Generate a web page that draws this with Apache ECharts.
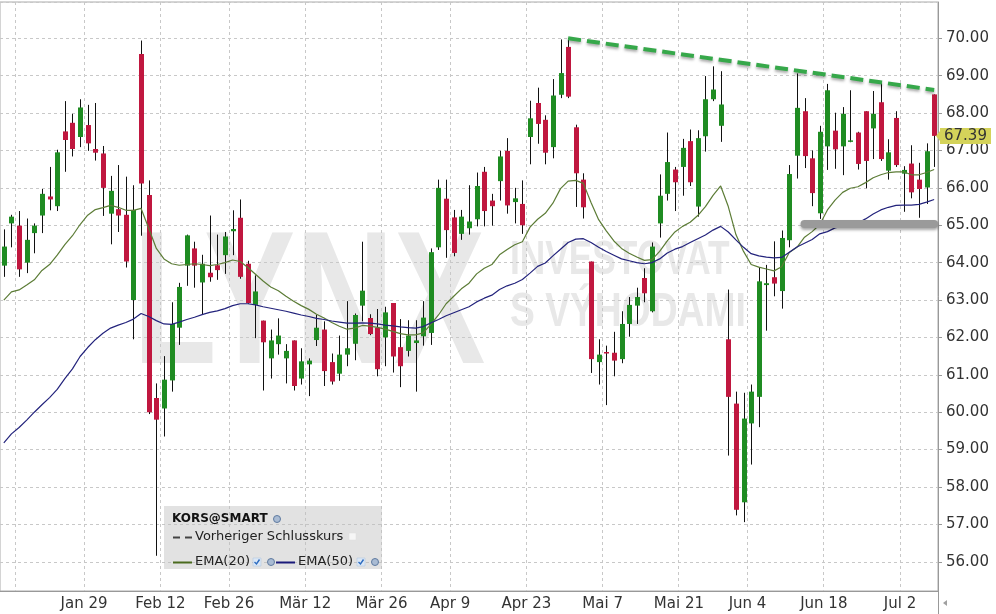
<!DOCTYPE html>
<html><head><meta charset="utf-8">
<script src="https://cdn.jsdelivr.net/npm/echarts@6/dist/echarts.min.js"></script>
<style>html,body{margin:0;padding:0;background:#fff}#c{width:996px;height:614px}</style>
</head><body><div id="c"></div>
<script>
// ---------------- data ----------------
const dates = ['Jan 12','Jan 16','Jan 17','Jan 18','Jan 19','Jan 22','Jan 23','Jan 24','Jan 25','Jan 26','Jan 29','Jan 30','Jan 31',
'Feb 1','Feb 2','Feb 5','Feb 6','Feb 7','Feb 8','Feb 9','Feb 12','Feb 13','Feb 14','Feb 15','Feb 16','Feb 20','Feb 21','Feb 22','Feb 23','Feb 26','Feb 27','Feb 28',
'Mär 1','Mär 2','Mär 5','Mär 6','Mär 7','Mär 8','Mär 9','Mär 12','Mär 13','Mär 14','Mär 15','Mär 16','Mär 19','Mär 20','Mär 21','Mär 22','Mär 23','Mär 26','Mär 27','Mär 28','Mär 29',
'Apr 2','Apr 3','Apr 4','Apr 5','Apr 6','Apr 9','Apr 10','Apr 11','Apr 12','Apr 13','Apr 16','Apr 17','Apr 18','Apr 19','Apr 20','Apr 23','Apr 24','Apr 25','Apr 26','Apr 27','Apr 30',
'Mai 1','Mai 2','Mai 3','Mai 4','Mai 7','Mai 8','Mai 9','Mai 10','Mai 11','Mai 14','Mai 15','Mai 16','Mai 17','Mai 18','Mai 21','Mai 22','Mai 23','Mai 24','Mai 25','Mai 29','Mai 30','Mai 31',
'Jun 1','Jun 4','Jun 5','Jun 6','Jun 7','Jun 8','Jun 11','Jun 12','Jun 13','Jun 14','Jun 15','Jun 18','Jun 19','Jun 20','Jun 21','Jun 22','Jun 25','Jun 26','Jun 27','Jun 28','Jun 29',
'Jul 2','Jul 3','Jul 5','Jul 6','Jul 9','Jul 10'];

const tickDates = ['Jan 29','Feb 12','Feb 26','Mär 12','Mär 26','Apr 9','Apr 23','Mai 7','Mai 21','Jun 4','Jun 18','Jul 2'];
const gridDates = ['Jan 16'].concat(tickDates);

const opens = [63.92,65.05,64.99,64.00,64.79,65.26,65.77,65.51,67.51,67.74,
67.36,67.68,67.04,66.92,65.31,65.43,65.28,63.00,69.58,65.81,
60.38,60.10,60.85,62.26,63.92,64.38,63.47,63.73,63.93,64.20,
64.84,65.20,63.97,62.87,62.45,61.44,61.82,61.44,61.92,60.90,
61.28,61.93,62.21,61.34,61.03,61.54,61.83,62.85,62.52,62.26,
62.00,62.92,61.74,61.64,61.85,62.03,62.12,64.41,65.71,65.21,
64.77,64.92,65.16,66.43,65.66,66.18,66.99,65.62,65.57,67.36,
68.27,67.82,67.09,68.49,69.77,67.62,66.22,64.03,61.34,61.61,
61.59,61.42,62.36,62.85,63.59,62.70,65.05,65.84,66.49,66.56,
67.25,65.50,67.38,68.37,67.66,61.95,60.23,57.59,59.70,60.41,
63.40,63.61,63.24,64.60,66.86,68.05,66.79,65.32,67.11,67.53,
67.11,67.23,67.48,68.05,67.59,68.29,66.46,67.87,66.38,66.65,
66.22,66.01,68.50];

const highs = [64.89,65.28,65.38,65.18,65.05,65.97,66.56,67.02,68.32,67.98,
68.37,68.22,68.27,67.12,66.32,66.61,66.30,66.07,69.94,66.20,
60.77,61.50,62.94,63.46,64.75,64.56,64.21,65.26,64.75,64.82,
65.40,65.69,64.05,63.66,62.45,62.21,62.51,61.82,61.92,61.71,
61.44,62.60,62.43,61.57,62.05,62.97,62.64,64.56,62.62,62.76,
62.82,62.92,62.49,62.46,62.46,62.97,64.38,66.22,66.22,65.41,
65.41,66.07,66.41,66.56,65.84,66.99,67.33,66.00,66.20,68.33,
68.68,67.94,68.91,69.97,70.01,67.69,66.39,64.03,61.95,61.78,
62.15,62.70,63.08,63.33,63.85,64.54,66.36,67.48,66.56,67.31,
67.56,67.54,68.99,69.25,69.12,63.28,60.55,60.52,60.74,63.88,
63.94,64.57,64.86,66.61,69.06,68.40,67.00,67.66,68.78,68.01,
68.16,68.61,67.50,68.05,68.59,68.81,67.30,68.05,66.58,67.14,
66.67,67.19,68.50];

const lows = [63.62,64.41,63.62,63.72,64.25,64.79,65.40,65.38,66.43,66.84,
67.09,66.99,66.73,65.25,64.49,64.82,63.87,61.95,64.72,59.95,
56.16,59.35,60.55,61.80,63.38,63.33,62.62,63.49,63.54,63.70,
64.20,63.57,62.90,61.98,60.58,60.90,61.54,60.77,60.58,60.74,
60.43,61.77,60.70,60.74,60.84,61.23,61.39,62.43,62.06,60.96,
61.23,61.06,60.67,61.49,60.55,61.78,61.80,64.34,64.13,64.17,
64.61,64.75,64.97,64.97,64.99,65.66,65.31,65.05,64.77,66.63,
67.18,66.63,66.79,68.40,68.40,65.49,65.18,61.05,60.74,60.19,
60.96,61.31,62.02,62.36,62.94,62.67,64.67,65.66,65.38,65.79,
66.05,65.23,66.97,68.32,67.23,58.84,57.24,57.06,58.60,59.60,
62.18,63.10,62.77,64.41,66.25,66.53,65.51,65.17,66.48,66.51,
66.34,67.22,66.49,65.99,66.77,66.72,66.22,66.56,65.36,65.72,
65.20,65.57,66.56];

const closes = [64.43,65.23,63.82,64.61,64.99,65.84,65.69,66.95,67.28,67.04,
68.15,67.19,66.94,66.00,65.92,65.26,64.03,65.41,66.12,60.00,
59.80,60.87,62.36,63.35,64.73,63.92,63.97,63.61,63.80,64.70,
64.90,63.62,62.92,63.23,61.87,61.92,62.05,61.64,60.70,61.36,
61.38,62.26,61.10,60.82,61.54,61.71,62.60,63.25,62.09,61.15,
62.67,61.49,61.23,62.05,61.92,62.53,64.28,66.00,64.87,64.26,
65.23,65.10,66.05,65.38,65.51,66.84,65.53,65.72,65.00,67.86,
67.71,66.94,68.47,69.07,68.44,66.39,65.48,61.42,61.54,61.57,
61.38,62.36,62.87,63.08,63.18,64.43,65.79,66.69,66.15,67.07,
66.15,67.33,68.37,68.63,68.23,60.41,57.39,59.83,60.55,63.50,
63.45,63.44,64.66,66.37,68.14,66.85,65.86,67.50,68.61,67.03,
67.98,67.27,66.64,66.72,67.98,66.77,66.95,66.61,66.48,65.88,
65.97,66.98,67.39];

const ema20 = [63.00,63.22,63.27,63.40,63.54,63.79,63.95,64.20,64.48,64.72,
65.02,65.27,65.42,65.47,65.53,65.48,65.40,65.40,65.45,64.92,
64.38,64.10,63.97,63.93,63.95,63.97,63.95,63.92,63.95,64.00,
64.07,64.03,63.87,63.69,63.51,63.35,63.25,63.10,62.97,62.85,
62.75,62.62,62.52,62.40,62.30,62.22,62.25,62.32,62.30,62.27,
62.22,62.16,62.10,62.07,62.07,62.12,62.35,62.60,62.90,63.10,
63.30,63.45,63.70,63.85,63.95,64.21,64.35,64.48,64.56,64.95,
65.16,65.32,65.59,65.98,66.18,66.20,66.12,65.61,65.15,64.85,
64.58,64.38,64.25,64.15,64.06,64.08,64.30,64.58,64.82,64.97,
65.08,65.26,65.50,65.80,66.05,65.50,64.75,64.30,63.95,63.88,
63.83,63.78,63.89,64.27,64.41,64.68,64.83,65.02,65.41,65.67,
65.88,65.99,66.03,66.14,66.27,66.35,66.41,66.43,66.43,66.35,
66.35,66.41,66.49];

const ema50 = [59.18,59.42,59.59,59.79,60.00,60.20,60.39,60.61,60.90,61.16,
61.49,61.73,61.94,62.11,62.25,62.33,62.40,62.49,62.64,62.56,
62.45,62.36,62.35,62.41,62.48,62.54,62.61,62.67,62.71,62.77,
62.85,62.90,62.90,62.87,62.82,62.78,62.74,62.70,62.65,62.60,
62.56,62.51,62.48,62.44,62.41,62.38,62.38,62.39,62.38,62.36,
62.33,62.31,62.28,62.26,62.25,62.29,62.39,62.48,62.58,62.66,
62.74,62.82,62.95,63.05,63.13,63.28,63.38,63.45,63.55,63.72,
63.90,63.99,64.18,64.36,64.54,64.63,64.64,64.54,64.41,64.30,
64.20,64.10,64.05,64.00,63.97,64.00,64.10,64.26,64.36,64.43,
64.54,64.64,64.74,64.87,64.97,64.82,64.61,64.41,64.24,64.18,
64.15,64.13,64.14,64.28,64.42,64.52,64.62,64.77,64.83,64.93,
64.98,65.01,65.06,65.17,65.30,65.41,65.48,65.53,65.54,65.54,
65.56,65.62,65.69];

// annotation anchors (data space)
const trendLine = [['Mai 1', 70.00], ['Jul 10', 68.62]];
const supportLine = [['Jun 14', 65.04], ['Jul 10', 65.04]];
const yRange = [55.218, 70.971];

// ---------------- chart ----------------
const GREEN = '#1f8c22', RED = '#c0173f';
const GRID = {left: 0, right: 58, top: 2, bottom: 23};
const FONT = '"DejaVu Sans", Verdana, sans-serif';
const chart = echarts.init(document.getElementById('c'), null, {renderer: 'canvas'});

const candleData = dates.map((d, i) => [i, opens[i], closes[i], lows[i], highs[i]]);

const option = {
  animation: false,
  backgroundColor: '#fff',
  grid: {left: GRID.left, right: GRID.right, top: GRID.top, bottom: GRID.bottom, show: true, borderColor: '#aaa', borderWidth: 1, backgroundColor: 'transparent'},
  xAxis: {
    type: 'category', data: dates, boundaryGap: true,
    axisLine: {show: true, lineStyle: {color: '#999'}},
    axisTick: {show: false},
    axisLabel: {
      interval: (idx, val) => tickDates.indexOf(val) >= 0,
      color: '#333', fontSize: 15, fontFamily: FONT, margin: 6, padding: [0, 0, 0, 8]
    },
    splitLine: {show: true, interval: (idx) => idx > 0 && gridDates.indexOf(dates[idx - 1]) >= 0,
      lineStyle: {color: '#c8c8c8', type: [3, 3], width: 1}}
  },
  yAxis: {
    type: 'value', position: 'right', min: yRange[0], max: yRange[1],
    splitNumber: 15, minInterval: 1, maxInterval: 1,
    axisLine: {show: true, lineStyle: {color: '#999'}},
    axisTick: {show: true, length: 4, lineStyle: {color: '#999'}},
    axisLabel: {margin: 8, color: '#333', fontSize: 15, fontFamily: FONT,
      formatter: v => v.toFixed(2), showMinLabel: false, showMaxLabel: false},
    splitLine: {show: true, lineStyle: {color: '#c8c8c8', type: [3, 3], width: 1}}
  },
  series: [
    {
      type: 'custom', name: 'KORS@SMART', data: candleData,
      encode: {x: 0, y: [1, 2, 3, 4]},
      renderItem: function (params, api) {
        const x = api.value(0);
        const o = api.value(1), c = api.value(2), l = api.value(3), h = api.value(4);
        const pO = api.coord([x, o]), pC = api.coord([x, c]);
        const pL = api.coord([x, l]), pH = api.coord([x, h]);
        const w = Math.max(3, Math.round(api.size([1, 0])[0] * 0.66));
        const cx = Math.round(pO[0]) + 0.5;
        const top = Math.min(pO[1], pC[1]);
        const bh = Math.max(1.5, Math.abs(pO[1] - pC[1]));
        const up = c >= o;
        return {type: 'group', children: [
          {type: 'line', shape: {x1: cx, y1: pH[1], x2: cx, y2: pL[1]}, style: {stroke: '#111', lineWidth: 1}},
          {type: 'rect', shape: {x: cx - w / 2, y: top, width: w, height: bh}, style: {fill: up ? GREEN : RED}}
        ]};
      },
      z: 3
    },
    {
      type: 'line', name: 'EMA(20)', data: ema20, showSymbol: false, symbol: 'none',
      lineStyle: {color: '#5c7c36', width: 1.2}, z: 4,
      markLine: {
        silent: true, symbol: ['none', 'none'], animation: false, label: {show: false},
        emphasis: {disabled: true},
        data: [
          [{coord: trendLine[0], lineStyle: {color: '#36a84a', width: 4, type: [13, 6], cap: 'butt',
              shadowColor: 'rgba(0,0,0,0.35)', shadowBlur: 3, shadowOffsetY: 2, opacity: 1}},
           {coord: trendLine[1]}],
          [{coord: supportLine[0], lineStyle: {color: '#9a9a9a', width: 8, type: 'solid', cap: 'round',
              shadowColor: 'rgba(0,0,0,0.35)', shadowBlur: 3, shadowOffsetY: 2, opacity: 1}},
           {coord: supportLine[1]}]
        ]
      }
    },
    {
      type: 'line', name: 'EMA(50)', data: ema50, showSymbol: false, symbol: 'none',
      lineStyle: {color: '#23237c', width: 1.2}, z: 4
    }
  ]
};
chart.setOption(option);

// ---------------- decorations ----------------
const W = chart.getWidth(), H = chart.getHeight();
const axisX = W - GRID.right;
const lastClose = closes[closes.length - 1];
const py = chart.convertToPixel({yAxisIndex: 0}, lastClose);

function globe(x, y) {
  return {type: 'circle', z: 52, shape: {cx: x, cy: y, r: 3.5}, style: {fill: '#a9bbd3', stroke: '#5f7aa0', lineWidth: 1}};
}
function check(x, y) {
  return {type: 'group', z: 52, children: [
    {type: 'rect', z: 52, shape: {x: x - 4, y: y - 4, width: 8, height: 8}, style: {fill: '#dbe7f5', stroke: '#a8c0dc', lineWidth: 0.5}},
    {type: 'polyline', z: 53, shape: {points: [[x - 2.5, y], [x - 0.5, y + 2], [x + 2.5, y - 2.5]]}, style: {stroke: '#2d6cc0', lineWidth: 1.4, fill: null}}
  ]};
}
const wmColor = '#e8e8e8';
const graphics = [
  // watermark
  {type: 'text', z: -1, x: 133, y: 311, scaleX: 0.72, style: {text: 'LYNX', font: 'bold 190px "Liberation Sans", Arial, sans-serif', fill: wmColor, verticalAlign: 'middle', align: 'left'}},
  {type: 'text', z: -1, x: 510, y: 260, scaleX: 0.72, style: {text: 'INVESTOVAT', font: 'bold 49px "Liberation Sans", Arial, sans-serif', fill: wmColor, verticalAlign: 'middle', align: 'left'}},
  {type: 'text', z: -1, x: 510, y: 312, scaleX: 0.76, style: {text: 'S VÝHODAMI', font: 'bold 49px "Liberation Sans", Arial, sans-serif', fill: wmColor, verticalAlign: 'middle', align: 'left'}},
  // legend box
  {type: 'rect', z: 50, shape: {x: 164, y: 506, width: 218, height: 63}, style: {fill: 'rgba(190,190,190,0.45)'}},
  {type: 'text', z: 51, x: 172, y: 519, style: {text: 'KORS@SMART', font: 'bold 12px ' + FONT, fill: '#111', verticalAlign: 'middle'}},
  globe(277, 519),
  {type: 'line', z: 51, shape: {x1: 173, y1: 537.5, x2: 192, y2: 537.5}, style: {stroke: '#444', lineWidth: 2, lineDash: [7, 5]}},
  {type: 'text', z: 51, x: 195, y: 537, style: {text: 'Vorheriger Schlusskurs', font: '13px ' + FONT, fill: '#222', verticalAlign: 'middle'}},
  {type: 'rect', z: 51, shape: {x: 349, y: 533, width: 7, height: 7}, style: {fill: '#f6f6f6', stroke: '#dcdcdc', lineWidth: 0.5}},
  {type: 'line', z: 51, shape: {x1: 173, y1: 562.5, x2: 192, y2: 562.5}, style: {stroke: '#4a6b1e', lineWidth: 2}},
  {type: 'text', z: 51, x: 195, y: 562, style: {text: 'EMA(20)', font: '13px ' + FONT, fill: '#222', verticalAlign: 'middle'}},
  check(257, 562), globe(271, 562),
  {type: 'line', z: 51, shape: {x1: 276, y1: 562.5, x2: 295, y2: 562.5}, style: {stroke: '#1a1a7a', lineWidth: 2}},
  {type: 'text', z: 51, x: 298, y: 562, style: {text: 'EMA(50)', font: '13px ' + FONT, fill: '#222', verticalAlign: 'middle'}},
  check(361, 562), globe(375, 562),
  // axis extension + scroll arrow
  {type: 'line', z: 5, shape: {x1: axisX + 0.5, y1: H - GRID.bottom, x2: axisX + 0.5, y2: H}, style: {stroke: '#999', lineWidth: 1}},
  {type: 'polygon', z: 5, shape: {points: [[axisX + 5, 603], [axisX + 9, 600], [axisX + 9, 606]]}, style: {fill: '#a0a0a0'}},
  // last price label
  {type: 'polygon', z: 60, shape: {points: [[axisX - 2, py], [axisX + 2, py - 5], [axisX + 2, py - 8], [axisX + 53, py - 8], [axisX + 53, py + 8], [axisX + 2, py + 8], [axisX + 2, py + 5]]}, style: {fill: '#d4d35a'}},
  {type: 'text', z: 61, x: axisX + 6, y: py + 0.5, style: {text: lastClose.toFixed(2), font: '15px ' + FONT, fill: '#333', verticalAlign: 'middle'}}
];
chart.setOption({graphic: graphics});
</script>
</body></html>
